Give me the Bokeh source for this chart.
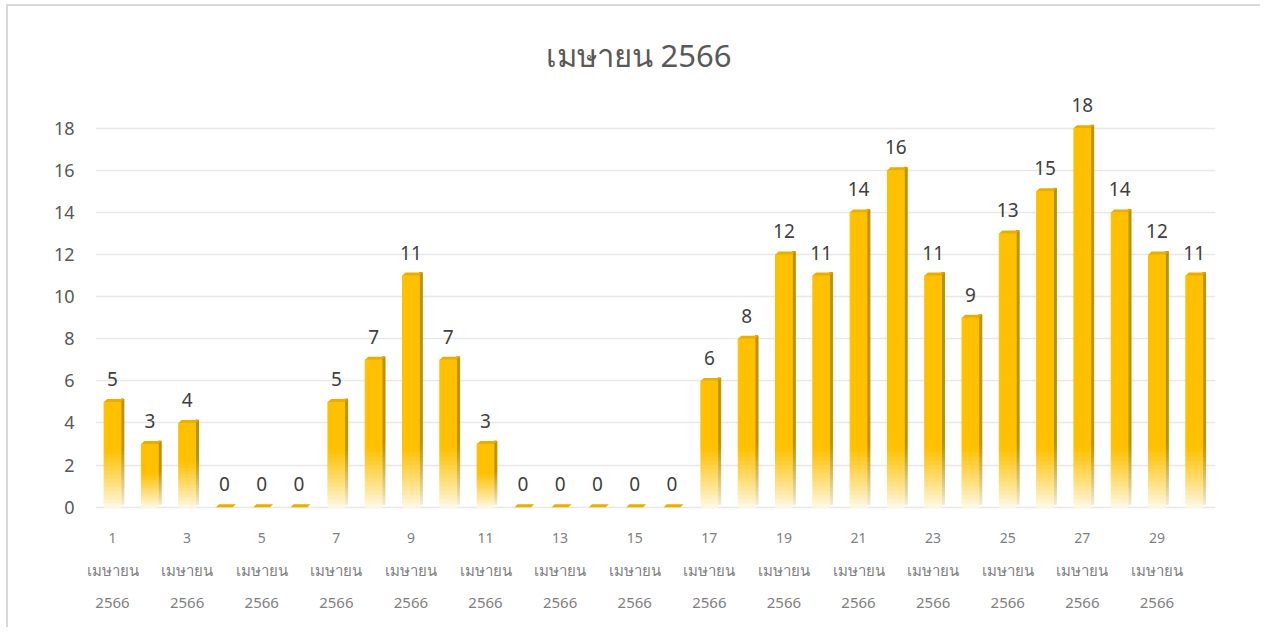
from bokeh.plotting import figure
from bokeh.models import LinearAxis, FixedTicker, Range1d, ColumnDataSource
from bokeh.core.properties import value
from bokeh.embed import file_html
from bokeh.resources import INLINE

# ---------------- data ----------------
title_text = "เมษายน 2566"
days = list(range(1, 31))
counts = [5, 3, 4, 0, 0, 0, 5, 7, 11, 7, 3, 0, 0, 0, 0, 0,
          6, 8, 12, 11, 14, 16, 11, 9, 13, 15, 18, 14, 12, 11]
tick_days = list(range(1, 30, 2))
month_label = "เมษายน"
year_label = "2566"
y_ticks = list(range(0, 19, 2))

# ---------------- style ----------------
FONT = "Noto Sans"
GOLD = (255, 192, 0)
PALE = (255, 250, 235)
SIDE = (190, 145, 5)
SIDE_PALE = (245, 236, 210)
FRONT_W = 0.45
SIDE_W = 0.08
CAP_H = 0.14
N_SLICES = 14


def mix(c1, c2, t):
    r, g, b = (round(a + (b_ - a) * t) for a, b_ in zip(c1, c2))
    return "#%02x%02x%02x" % (r, g, b)


front = dict(x=[], bottom=[], top=[], color=[])
side = dict(x=[], bottom=[], top=[], color=[])
for d, v in zip(days, counts):
    if v <= 0:
        continue
    f = min(2.85, 0.55 * v)
    for k in range(N_SLICES):
        b0 = f * k / N_SLICES
        t0 = f * (k + 1) / N_SLICES
        t = ((k + 0.5) / N_SLICES) ** 0.9
        front["x"].append(d)
        front["bottom"].append(b0)
        front["top"].append(t0)
        front["color"].append(mix(PALE, GOLD, t))
        side["x"].append(d + FRONT_W / 2 + SIDE_W / 2)
        side["bottom"].append(b0 + CAP_H)
        side["top"].append(t0 + CAP_H)
        side["color"].append(mix(SIDE_PALE, SIDE, t))
    front["x"].append(d)
    front["bottom"].append(f)
    front["top"].append(v)
    front["color"].append(mix(PALE, GOLD, 1))
    side["x"].append(d + FRONT_W / 2 + SIDE_W / 2)
    side["bottom"].append(f + CAP_H)
    side["top"].append(v + CAP_H)
    side["color"].append(mix(SIDE_PALE, SIDE, 1))

cap_xs, cap_ys = [], []
for d, v in zip(days, counts):
    l = d - FRONT_W / 2
    r = d + FRONT_W / 2
    cap_xs.append([l, r, r + SIDE_W, l + SIDE_W])
    cap_ys.append([v, v, v + CAP_H, v + CAP_H])

p = figure(width=1254, height=623, output_backend="svg", toolbar_location=None,
           x_range=Range1d(0.544, 30.57), y_range=Range1d(-0.25, 19.5),
           x_axis_type=None, y_axis_location="left",
           min_border_left=87, min_border_right=47,
           min_border_top=90, min_border_bottom=117,
           background_fill_color="white", border_fill_color="white")
p.outline_line_color = None
p.styles = {"margin-left": "6px", "margin-top": "4px",
            "border-left": "2px solid #D9D9D9", "border-top": "2px solid #D9D9D9"}

p.title.text = title_text
p.title.align = "left"
p.title.text_font = FONT
p.title.text_font_size = "31px"
p.title.text_font_style = "normal"
p.title.text_color = "#595959"
p.title.standoff = 41
p.title.offset = 450

p.xgrid.grid_line_color = None
p.ygrid.grid_line_color = "#E8E8E8"
p.ygrid.grid_line_width = 1.5
p.yaxis.ticker = FixedTicker(ticks=y_ticks)
p.yaxis.axis_line_color = None
p.yaxis.major_tick_line_color = None
p.yaxis.minor_tick_line_color = None
p.yaxis.major_label_standoff = 15
p.yaxis.major_label_text_font = FONT
p.yaxis.major_label_text_font_size = "18px"
p.yaxis.major_label_text_color = "#595959"

for labels, standoff, size in (
        ({d: str(d) for d in tick_days}, 14, "14px"),
        ({d: month_label for d in tick_days}, 8, "15px"),
        ({d: year_label for d in tick_days}, 9, "15px")):
    ax = LinearAxis(ticker=FixedTicker(ticks=tick_days), major_label_overrides=labels)
    ax.axis_line_color = None
    ax.major_tick_line_color = None
    ax.minor_tick_line_color = None
    ax.major_label_standoff = standoff
    ax.major_label_text_font = FONT
    ax.major_label_text_font_size = size
    ax.major_label_text_color = "#7F7F7F"
    p.add_layout(ax, "below")

p.vbar(x="x", bottom="bottom", top="top", width=SIDE_W, color="color",
       source=ColumnDataSource(side))
p.vbar(x="x", bottom="bottom", top="top", width=FRONT_W, color="color",
       source=ColumnDataSource(front))
p.patches(xs=cap_xs, ys=cap_ys, fill_color="#E8AE00", line_color=None)

p.text(x=days, y=counts, text=[str(c) for c in counts], y_offset=-23,
       text_align="center", text_baseline="middle",
       text_font=value(FONT), text_font_size="19px", text_color="#404040")

open("out.html", "w").write(file_html(p, INLINE))
